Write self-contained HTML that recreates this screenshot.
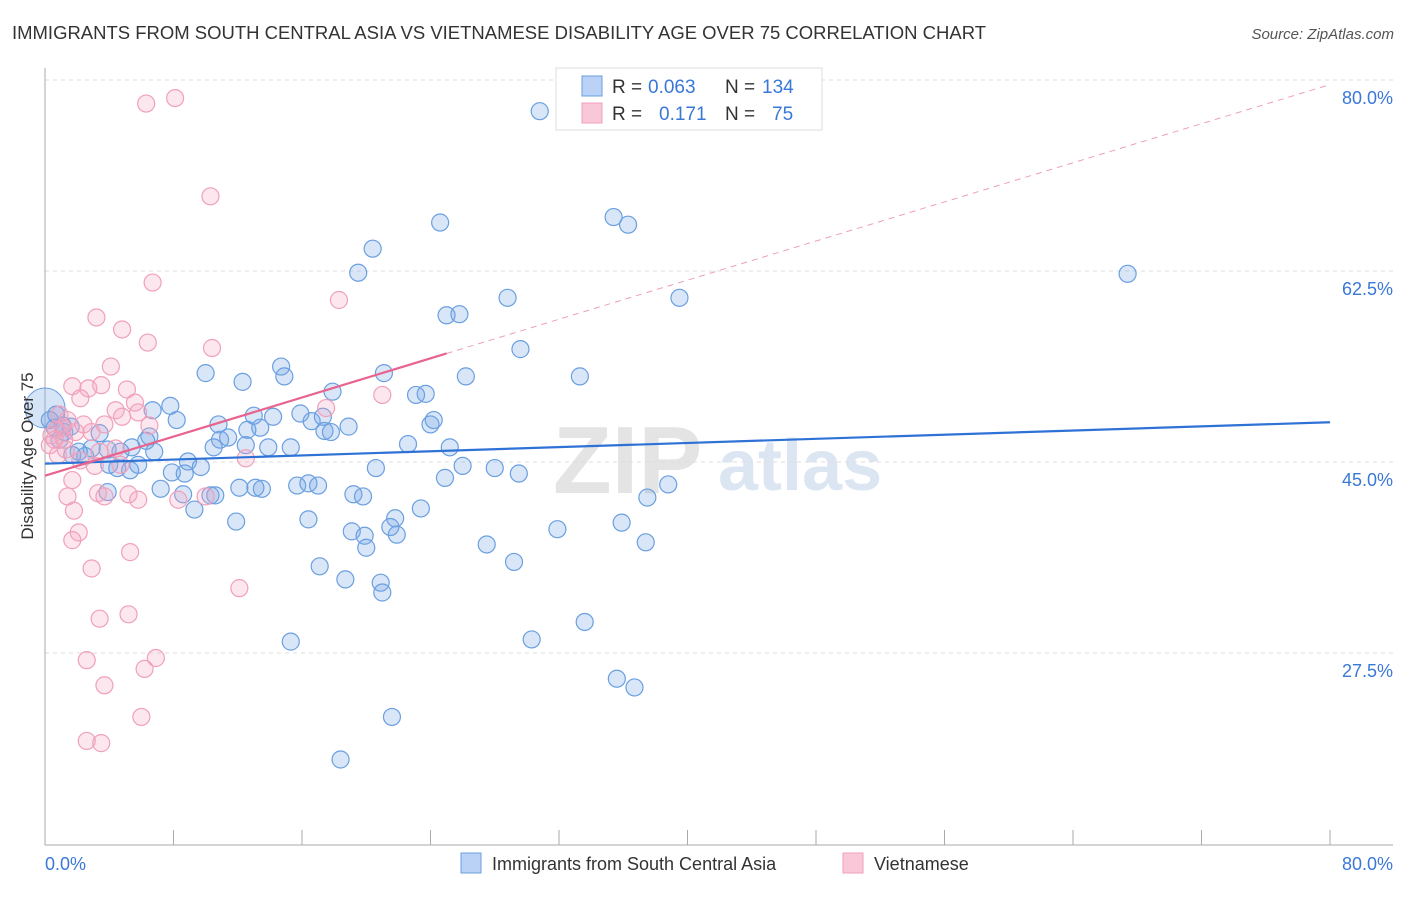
<!DOCTYPE html>
<html><head><meta charset="utf-8"><style>
body{margin:0;background:#fff;font-family:"Liberation Sans",sans-serif;}
svg text{font-family:"Liberation Sans",sans-serif;}
</style></head><body>
<svg id="chart" width="1406" height="892" xmlns="http://www.w3.org/2000/svg">
<text x="12" y="39" font-size="18" fill="#333" textLength="974" lengthAdjust="spacingAndGlyphs">IMMIGRANTS FROM SOUTH CENTRAL ASIA VS VIETNAMESE DISABILITY AGE OVER 75 CORRELATION CHART</text>
<text x="1394" y="39" font-size="15" fill="#555" font-style="italic" text-anchor="end">Source: ZipAtlas.com</text>
<g>
<text x="553" y="493" font-size="96" fill="#e4e4e4" font-family="Liberation Serif" font-weight="bold">ZIP</text>
<text x="718" y="490" font-size="72" fill="#dce6f3" font-weight="bold">atlas</text>
</g>
<g id="grid"></g>
<g id="axes"></g>
<g id="pts"></g>
<g id="lines"></g>
<text transform="translate(33,456) rotate(-90)" font-size="17" fill="#333" text-anchor="middle">Disability Age Over 75</text>
<g>
<rect x="556" y="68" width="266" height="62" fill="#fff" stroke="#ddd"/>
<rect x="582" y="76" width="20" height="20" fill="#b9d2f5" stroke="#6a9fe0"/>
<rect x="582" y="103" width="20" height="20" fill="#f9c8d8" stroke="#f0a0bb"/>
<text x="612" y="93" font-size="19" fill="#333">R =</text>
<text x="648" y="93" font-size="19" fill="#3a78d8">0.063</text>
<text x="725" y="93" font-size="19" fill="#333">N =</text>
<text x="762" y="93" font-size="19" fill="#3a78d8">134</text>
<text x="612" y="120" font-size="19" fill="#333">R =</text>
<text x="659" y="120" font-size="19" fill="#3a78d8">0.171</text>
<text x="725" y="120" font-size="19" fill="#333">N =</text>
<text x="772" y="120" font-size="19" fill="#3a78d8">75</text>
</g>
<g>
<rect x="461" y="853" width="20" height="20" fill="#b9d2f5" stroke="#6a9fe0"/>
<text x="492" y="870" font-size="18" fill="#333">Immigrants from South Central Asia</text>
<rect x="843" y="853" width="20" height="20" fill="#f9c8d8" stroke="#f0a0bb"/>
<text x="874" y="870" font-size="18" fill="#333">Vietnamese</text>
</g>
</svg>
<script>
const yTicks=[80,62.5,45,27.5];
const yTickLabels=["80.0%","62.5%","45.0%","27.5%"];
const xTickLabels=["0.0%","80.0%"];
const blueX=[30.8,24.6,35.4,36.3,20.4,19.5,67.4,28.8,39.5,25.0,25.8,29.6,14.7,10.0,14.9,12.3,21.1,26.2,33.3,17.9,23.1,23.7,7.8,6.7,8.2,10.8,15.9,13.0,14.2,16.6,17.3,18.9,24.0,24.2,17.4,17.8,13.4,12.6,11.4,10.9,10.5,12.5,13.9,15.3,6.5,6.3,5.4,4.7,3.9,3.4,2.9,2.5,2.1,1.7,0.9,0.6,1.2,0.3,4.0,4.5,5.3,5.8,6.8,22.6,25.2,20.6,26.0,28.0,29.5,24.9,38.8,37.5,7.9,8.9,9.7,8.7,7.2,8.6,10.3,10.6,12.1,13.5,13.1,15.7,16.4,17.0,19.2,19.8,23.4,21.8,21.5,21.9,19.1,19.9,20.0,16.4,11.9,9.3,3.9,31.9,35.9,37.4,27.5,29.2,17.1,18.7,20.9,21.0,15.3,30.3,33.6,35.6,36.7,21.6,18.4,1.1,1.6,0.7];
const blueY=[78.7,68.5,69.0,68.3,66.1,63.9,63.8,61.6,61.6,60.0,60.1,56.9,55.3,54.7,54.4,53.9,54.7,54.4,54.4,53.0,52.7,52.8,51.7,51.3,50.4,50.0,51.0,50.8,50.7,50.3,50.7,49.8,50.0,50.4,49.4,49.3,49.7,49.5,48.8,48.6,47.9,48.1,47.9,47.9,48.9,48.5,47.9,47.5,47.7,49.2,47.8,47.1,47.5,47.2,48.6,49.7,49.3,50.4,46.3,46.0,45.8,46.3,47.5,48.2,47.9,46.0,46.2,46.0,45.5,45.1,44.5,43.3,45.6,46.6,46.1,45.5,44.1,43.6,43.5,43.5,44.2,44.1,44.2,44.4,44.6,44.4,43.6,43.4,42.3,41.4,40.6,39.9,40.2,39.8,38.7,41.3,41.1,42.2,43.8,40.4,41.0,39.2,39.0,37.4,37.0,35.8,35.5,34.6,30.1,30.3,31.9,26.7,25.9,23.2,19.3,49.9,49.8,50.9];
const pinkX=[6.3,8.1,10.3,6.7,3.2,4.8,18.3,6.4,10.4,4.1,1.7,2.7,3.5,5.1,5.6,4.4,2.2,0.9,1.4,0.7,0.4,0.3,0.8,1.2,1.9,2.4,2.9,3.7,4.8,5.8,6.5,17.5,21.0,12.5,2.2,3.1,3.4,4.4,4.7,1.7,1.4,3.3,3.7,5.2,5.8,8.3,10.0,1.8,2.1,1.7,5.3,2.9,12.1,5.2,3.4,2.6,6.9,6.2,3.7,6.0,2.6,3.5,1.1,0.6,1.3];
const pinkY=[79.4,79.9,70.9,63.0,59.8,58.7,61.4,57.5,57.0,55.3,53.5,53.3,53.6,53.2,52.0,51.3,52.4,50.9,50.4,49.5,49.0,48.1,47.2,48.6,49.3,50.0,49.3,50.0,50.7,51.1,49.9,51.5,52.7,46.9,46.7,46.2,47.5,47.8,46.3,44.9,43.4,43.7,43.4,43.6,43.1,43.1,43.4,42.1,40.1,39.4,38.3,36.8,35.0,32.6,32.2,28.4,28.6,27.6,26.1,23.2,21.0,20.8,49.7,48.6,47.7];
const blueTrend=[46.4,50.2];
const pinkTrend=[45.3,56.5,25];
const NS="http://www.w3.org/2000/svg";
const X=v=>45+v*(1285/80);
const Y=v=>97+(80-v)*10.914;
function mk(tag,attrs,parent){const e=document.createElementNS(NS,tag);for(const k in attrs)e.setAttribute(k,attrs[k]);parent.appendChild(e);return e;}
const grid=document.getElementById('grid'),axes=document.getElementById('axes'),pts=document.getElementById('pts'),lines=document.getElementById('lines');
yTicks.forEach((t,i)=>{
 const l=mk('line',{x1:45,x2:1393,y1:Y(t)-17,y2:Y(t)-17,stroke:'#ddd','stroke-dasharray':'4,4'},grid);
 
 
 const tx=mk('text',{x:1393,y:Y(t)+7,'font-size':18,fill:'#3a78d8','text-anchor':'end'},grid);
 tx.textContent=yTickLabels[i];
 
 
});
const xa=mk('line',{x1:45,x2:1393,y1:845,y2:845,stroke:'#aaa'},axes);


const ya=mk('line',{x1:45,x2:45,y1:68,y2:845,stroke:'#aaa'},axes);


for(let i=0;i<=10;i++){
 const t=mk('line',{x1:X(i*8),x2:X(i*8),y1:830,y2:845,stroke:'#aaa'},axes);
 
 
}
const xl0=mk('text',{x:45,y:870,'font-size':18,fill:'#3a78d8'},axes);xl0.textContent=xTickLabels[0];


const xl1=mk('text',{x:1393,y:870,'font-size':18,fill:'#3a78d8','text-anchor':'end'},axes);xl1.textContent=xTickLabels[1];


const big=mk('circle',{cx:X(0),cy:Y(51.5),r:20,fill:'rgba(120,165,230,0.3)',stroke:'#6a9fe0'},pts);


blueX.forEach((x,i)=>{
 const c=mk('circle',{cx:X(x),cy:Y(blueY[i]),r:8.5,fill:'rgba(120,165,230,0.28)',stroke:'#6a9fe0','stroke-width':1.2},pts);
 
 
});
pinkX.forEach((x,i)=>{
 const c=mk('circle',{cx:X(x),cy:Y(pinkY[i]),r:8.5,fill:'rgba(245,170,195,0.28)',stroke:'#f0a0bb','stroke-width':1.2},pts);
 
 
});
const bl=mk('line',{x1:X(0),y1:Y(blueTrend[0]),x2:X(80),y2:Y(blueTrend[1]),stroke:'#2f72d6','stroke-width':2.2},lines);


const slope=(pinkTrend[1]-pinkTrend[0])/pinkTrend[2];
const pl=mk('line',{x1:X(0),y1:Y(pinkTrend[0]),x2:X(pinkTrend[2]),y2:Y(pinkTrend[1]),stroke:'#e8648e','stroke-width':2.2},lines);


const pd=mk('line',{x1:X(pinkTrend[2]),y1:Y(pinkTrend[1]),x2:X(80),y2:Y(pinkTrend[0]+slope*80),stroke:'#eca0b8','stroke-width':1,'stroke-dasharray':'6,5'},lines);


</script>
</body></html>
